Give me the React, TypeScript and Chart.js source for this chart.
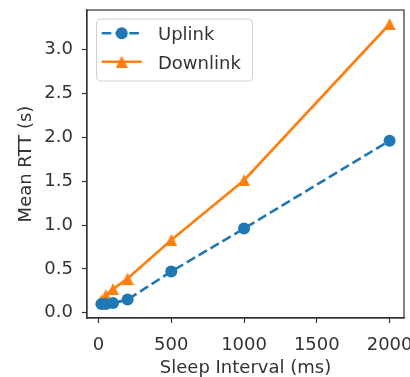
import React, { useEffect, useRef } from 'react';
import { Chart, registerables } from 'chart.js';
Chart.register(...registerables);

const sleepInterval = [20, 50, 100, 200, 500, 1000, 2000];
const uplink = [0.10, 0.10, 0.11, 0.15, 0.47, 0.96, 1.96];
const downlink = [0.14, 0.20, 0.27, 0.39, 0.83, 1.51, 3.29];
const xTicks = [0, 500, 1000, 1500, 2000];
const yTicks = [0, 0.5, 1.0, 1.5, 2.0, 2.5, 3.0];
const seriesNames = ['Uplink', 'Downlink'];
const xLabel = 'Sleep Interval (ms)';
const yLabel = 'Mean RTT (s)';

const BLUE = '#1f77b4';
const ORANGE = '#ff7f0e';
const TEXT = '#333333';
const FONT = 'DejaVu Sans';

function makeTriangle(color: string, size: number) {
  const c = document.createElement('canvas');
  c.width = size;
  c.height = size;
  const ctx = c.getContext('2d')!;
  ctx.fillStyle = color;
  ctx.beginPath();
  ctx.moveTo(size / 2, 0);
  ctx.lineTo(size, size);
  ctx.lineTo(0, size);
  ctx.closePath();
  ctx.fill();
  return c;
}

function pad(arr: number[]) {
  const mn = Math.min(...arr);
  const mx = Math.max(...arr);
  const m = (mx - mn) * 0.05;
  return [mn - m, mx + m];
}

export default function App() {
  const ref = useRef<HTMLCanvasElement>(null);
  useEffect(() => {
    const tri = makeTriangle(ORANGE, 12);
    const [xmin, xmax] = pad(sleepInterval);
    const [ymin, ymax] = pad([...uplink, ...downlink]);
    const dash = [9.6, 4.2];

    const framePlugin = {
      id: 'frame',
      afterDatasetsDraw(chart: any) {
        const { ctx, chartArea: a } = chart;
        ctx.save();
        ctx.strokeStyle = '#333';
        ctx.lineWidth = 1.2;
        ctx.strokeRect(a.left, a.top, a.right - a.left, a.bottom - a.top);
        ctx.restore();
      },
      afterDraw(chart: any) {
        const { ctx } = chart;
        ctx.save();
        const bx = 96.5, by = 19, bw = 156, bh = 62, r = 4;
        ctx.beginPath();
        ctx.moveTo(bx + r, by);
        ctx.arcTo(bx + bw, by, bx + bw, by + bh, r);
        ctx.arcTo(bx + bw, by + bh, bx, by + bh, r);
        ctx.arcTo(bx, by + bh, bx, by, r);
        ctx.arcTo(bx, by, bx + bw, by, r);
        ctx.closePath();
        ctx.fillStyle = 'rgba(255,255,255,0.8)';
        ctx.fill();
        ctx.strokeStyle = '#d0d0d0';
        ctx.lineWidth = 1;
        ctx.stroke();
        const rows = [33.3, 61.7];
        const colors = [BLUE, ORANGE];
        rows.forEach((ry, i) => {
          ctx.beginPath();
          ctx.strokeStyle = colors[i];
          ctx.lineWidth = 2.6;
          ctx.setLineDash(i === 0 ? dash : []);
          ctx.moveTo(101.7, ry);
          ctx.lineTo(141.7, ry);
          ctx.stroke();
          ctx.setLineDash([]);
          if (i === 0) {
            ctx.beginPath();
            ctx.fillStyle = BLUE;
            ctx.arc(121.7, ry, 6, 0, Math.PI * 2);
            ctx.fill();
          } else {
            ctx.drawImage(tri, 121.7 - 6, ry - 6);
          }
          ctx.fillStyle = TEXT;
          ctx.font = `18px "${FONT}"`;
          ctx.textBaseline = 'alphabetic';
          ctx.textAlign = 'left';
          ctx.fillText(seriesNames[i], 158, ry + 7);
        });
        ctx.restore();
      },
    };

    const chart = new Chart(ref.current!, {
      type: 'line',
      data: {
        datasets: [
          {
            label: seriesNames[0],
            data: sleepInterval.map((x, i) => ({ x, y: uplink[i] })),
            borderColor: BLUE,
            backgroundColor: BLUE,
            borderWidth: 2.6,
            borderDash: dash,
            pointRadius: 6,
            pointStyle: 'circle',
            pointBorderWidth: 0,
            tension: 0,
          },
          {
            label: seriesNames[1],
            data: sleepInterval.map((x, i) => ({ x, y: downlink[i] })),
            borderColor: ORANGE,
            backgroundColor: ORANGE,
            borderWidth: 2.6,
            pointRadius: 6,
            pointStyle: tri as any,
            pointBorderWidth: 0,
            tension: 0,
          },
        ],
      },
      options: {
        animation: false,
        responsive: false,
        devicePixelRatio: 1,
        layout: { padding: { top: 10, right: 5, left: 0, bottom: 0 } },
        plugins: { legend: { display: false }, tooltip: { enabled: false } },
        scales: {
          x: {
            type: 'linear',
            min: xmin,
            max: xmax,
            afterBuildTicks: (s: any) => { s.ticks = xTicks.map((v) => ({ value: v })); },
            afterFit: (s: any) => { s.height = 59; s.paddingLeft = 0; s.paddingRight = 0; },
            grid: { drawOnChartArea: false, tickLength: 5, tickColor: '#333', tickWidth: 1.2 },
            border: { color: '#333', width: 1.2 },
            ticks: {
              color: TEXT,
              font: { family: FONT, size: 18 },
              padding: 12,
              maxRotation: 0,
              autoSkip: false,
              callback: (v: any) => String(v),
            },
            title: {
              display: true,
              text: xLabel,
              color: TEXT,
              font: { family: FONT, size: 18 },
              padding: { top: 0, bottom: -2 },
            },
          },
          y: {
            type: 'linear',
            min: ymin,
            max: ymax,
            afterBuildTicks: (s: any) => { s.ticks = yTicks.map((v) => ({ value: v })); },
            afterFit: (s: any) => { s.width = 87; s.paddingTop = 0; s.paddingBottom = 0; },
            grid: { drawOnChartArea: false, tickLength: 5, tickColor: '#333', tickWidth: 1.2 },
            border: { color: '#333', width: 1.2 },
            ticks: {
              color: TEXT,
              font: { family: FONT, size: 18 },
              padding: 9,
              autoSkip: false,
              callback: (v: any) => Number(v).toFixed(1),
            },
            title: {
              display: true,
              text: yLabel,
              color: TEXT,
              font: { family: FONT, size: 18 },
              padding: { top: 16, bottom: 0 },
            },
          },
        },
      },
      plugins: [framePlugin],
    } as any);
    return () => chart.destroy();
  }, []);
  return (
    <div style={{ position: 'fixed', left: 0, top: 0, width: 410, height: 377, background: '#fff' }}>
      <canvas ref={ref} width={410} height={377} style={{ width: 410, height: 377 }} />
    </div>
  );
}
